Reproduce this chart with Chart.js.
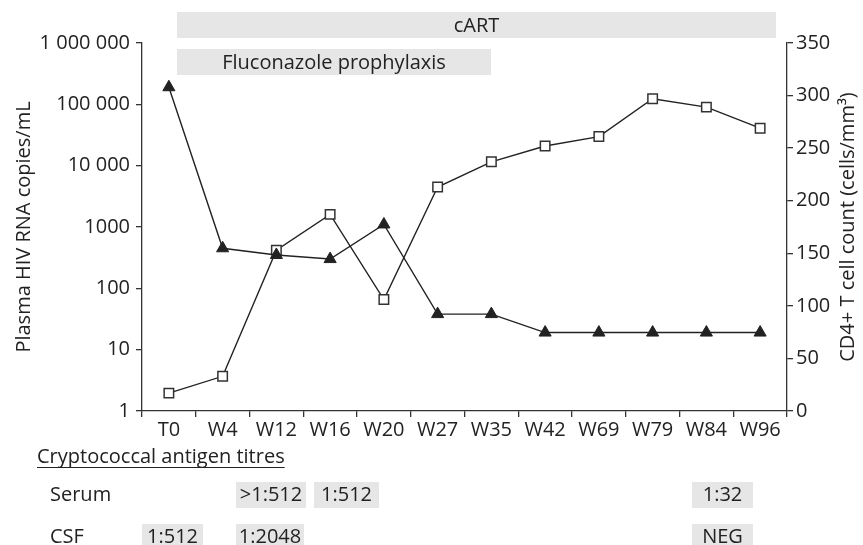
<!DOCTYPE html>
<html><head><meta charset="utf-8">
<script src="https://cdn.jsdelivr.net/npm/chart.js@4"></script>
<style>html,body{margin:0;padding:0;background:#fff}#wrap{width:863px;height:545px;position:relative}</style>
</head><body><div id="wrap"><canvas id="c" width="863" height="545"></canvas></div>
<script>
// ---- data ----
const weeks = ['T0','W4','W12','W16','W20','W27','W35','W42','W69','W79','W84','W96'];
const viralLoad = [190000, 450, 350, 300, 1100, 38, 38, 19, 19, 19, 19, 19];
const cd4Count = [17, 33, 153, 187, 106, 213, 237, 252, 261, 297, 289, 269];
const logTicks = [1, 10, 100, 1000, 10000, 100000, 1000000];
const logTickLabels = ['1', '10', '100', '1000', '10 000', '100 000', '1 000 000'];
const treatments = ['cART', 'Fluconazole prophylaxis'];
const titreTitle = 'Cryptococcal antigen titres';
const titreRows = ['Serum', 'CSF'];
const serumTitres = ['>1:512', '1:512', '1:32'];
const csfTitres = ['1:512', '1:2048', 'NEG'];

// ---- layout (pixels) ----
const FONT = '"Open Sans", "Noto Sans", sans-serif';
const INK = '#222';
const BOXFILL = '#e6e6e6';
const treatmentBoxes = [[177, 12, 776, 38], [177, 49, 491, 75]];
const serumBoxes = [[236, 482, 306, 508], [314, 482, 379, 508], [692, 482, 753, 508]];
const csfBoxes = [[142, 524, 203, 550], [236, 524, 304, 550], [692, 524, 753, 550]];
const rowLabelPos = [[50, 501], [50, 543]];

const annot = {
  id: 'annot',
  afterDraw(chart) {
    const ctx = chart.ctx;
    ctx.save();
    ctx.font = '20px ' + FONT;
    const box = (b, t, base) => {
      ctx.fillStyle = BOXFILL;
      ctx.fillRect(b[0], b[1], b[2] - b[0], b[3] - b[1]);
      ctx.fillStyle = INK;
      ctx.textAlign = 'center';
      ctx.textBaseline = base ? 'alphabetic' : 'middle';
      ctx.fillText(t, (b[0] + b[2]) / 2, base ? base : (b[1] + b[3]) / 2 + 1);
    };
    treatments.forEach((t, i) => box(treatmentBoxes[i], t));
    serumTitres.forEach((t, i) => box(serumBoxes[i], t, 501));
    csfTitres.forEach((t, i) => box(csfBoxes[i], t, 543));
    ctx.fillStyle = INK;
    ctx.textAlign = 'left';
    ctx.textBaseline = 'alphabetic';
    titreRows.forEach((t, i) => ctx.fillText(t, rowLabelPos[i][0], rowLabelPos[i][1]));
    ctx.fillText(titreTitle, 37, 463);
    const w = ctx.measureText(titreTitle).width;
    ctx.strokeStyle = INK; ctx.lineWidth = 1.2;
    ctx.beginPath(); ctx.moveTo(37, 467.5); ctx.lineTo(37 + w, 467.5); ctx.stroke();
    // right axis title, reading bottom-to-top
    const y1 = chart.scales.y1;
    ctx.translate(848, (y1.top + y1.bottom) / 2);
    ctx.rotate(-Math.PI / 2);
    ctx.textAlign = 'center';
    ctx.textBaseline = 'middle';
    ctx.fillText('CD4+ T cell count (cells/mm³)', 0, 0);
    ctx.restore();
  }
};

const tickFont = { family: FONT, size: 20 };
new Chart(document.getElementById('c'), {
  type: 'line',
  data: {
    labels: weeks,
    datasets: [
      { label: 'Plasma HIV RNA', data: viralLoad, yAxisID: 'y',
        borderColor: INK, borderWidth: 1.4, pointStyle: 'triangle', pointRadius: 7,
        pointBackgroundColor: INK, pointBorderColor: INK, pointBorderWidth: 1, tension: 0 },
      { label: 'CD4+', data: cd4Count, yAxisID: 'y1',
        borderColor: INK, borderWidth: 1.4, pointStyle: 'rect', pointRadius: 6.7,
        pointBackgroundColor: '#fff', pointBorderColor: '#333', pointBorderWidth: 1.5, tension: 0 }
    ]
  },
  options: {
    responsive: false, animation: false, devicePixelRatio: 1,
    layout: { padding: { left: 0, right: 0, top: 43, bottom: 104 } },
    plugins: { legend: { display: false }, tooltip: { enabled: false } },
    scales: {
      x: {
        type: 'category', offset: true,
        grid: { offset: true, drawOnChartArea: false, tickLength: 6, color: '#333', lineWidth: 1.3 },
        border: { color: '#333', width: 1.3 },
        ticks: { font: tickFont, color: INK, padding: 1, maxRotation: 0, autoSkip: false },
        afterFit(s) { s.height = 30; }
      },
      y: {
        type: 'logarithmic', position: 'left', min: 1, max: 1000000,
        afterBuildTicks(s) { s.ticks = logTicks.map(v => ({ value: v, major: true })); },
        grid: { drawOnChartArea: false, tickLength: 6, color: '#333', lineWidth: 1.3 },
        border: { color: '#333', width: 1.3 },
        ticks: { font: tickFont, color: INK, padding: 6,
          callback: (v) => { const i = logTicks.indexOf(v); return i >= 0 ? logTickLabels[i] : ''; } },
        title: { display: true, text: 'Plasma HIV RNA copies/mL', font: tickFont, color: INK, padding: { top: 12, bottom: 0 } },
        afterFit(s) { s.width = 142; }
      },
      y1: {
        type: 'linear', position: 'right', min: 0, max: 350,
        grid: { drawOnChartArea: false, tickLength: 6, color: '#333', lineWidth: 1.3 },
        border: { color: '#333', width: 1.3 },
        ticks: { stepSize: 50, font: tickFont, color: INK, padding: 3 },
        afterFit(s) { s.width = 76; }
      }
    }
  },
  plugins: [annot]
});
</script></body></html>
